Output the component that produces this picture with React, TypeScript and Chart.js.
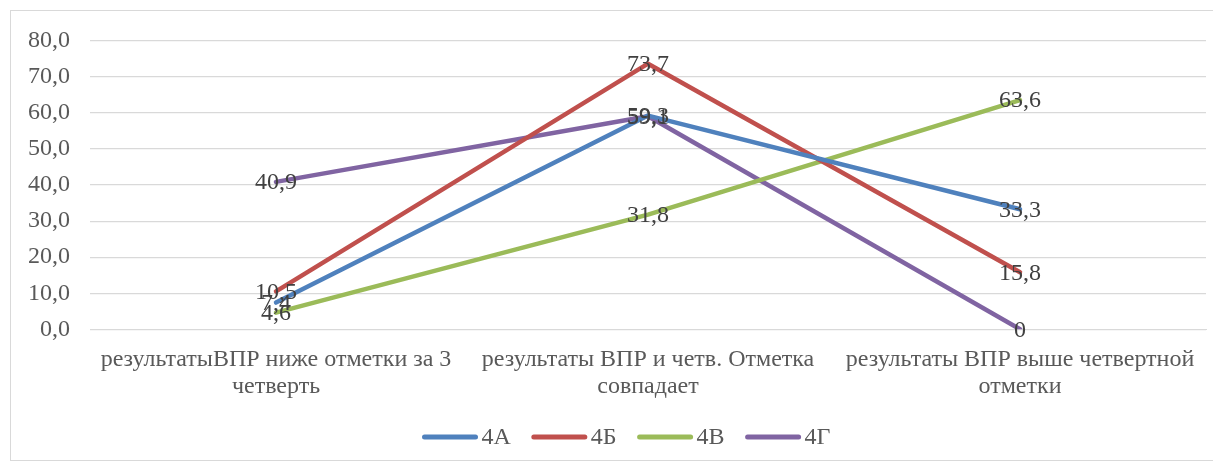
import React, { useEffect, useRef } from "react";
import { Chart, registerables } from "chart.js";

Chart.register(...registerables);

const categories: string[][] = [
  ["результатыВПР ниже отметки за 3", "четверть"],
  ["результаты ВПР и четв. Отметка", "совпадает"],
  ["результаты ВПР выше четвертной", "отметки"],
];

const seriesNames = ["4А", "4Б", "4В", "4Г"];
const values4A = [7.4, 59.3, 33.3];
const values4B = [10.5, 73.7, 15.8];
const values4V = [4.6, 31.8, 63.6];
const values4G = [40.9, 59.1, 0];
const colors = ["#4F81BD", "#C0504D", "#9BBB59", "#8064A2"];

const yTicks = [0, 10, 20, 30, 40, 50, 60, 70, 80];

const FONT = "'Liberation Serif', 'Times New Roman', serif";
const FS = 24;

const fmt = (v: number) => (v === 0 ? "0" : v.toFixed(1).replace(".", ","));

const labelPlugin = {
  id: "pointLabels",
  afterDatasetsDraw(chart: any) {
    const ctx = chart.ctx;
    ctx.save();
    ctx.font = `${FS}px ${FONT}`;
    ctx.fillStyle = "#404040";
    ctx.textAlign = "center";
    ctx.textBaseline = "middle";
    chart.data.datasets.forEach((ds: any, i: number) => {
      const meta = chart.getDatasetMeta(i);
      meta.data.forEach((pt: any, j: number) => {
        ctx.fillText(fmt(ds.data[j]), pt.x, pt.y + 1);
      });
    });
    ctx.restore();
  },
};

const legendPlugin = {
  id: "customLegend",
  afterDraw(chart: any) {
    const ctx = chart.ctx;
    ctx.save();
    ctx.font = `${FS}px ${FONT}`;
    const lineW = 55;
    const gap = 4;
    const after = 21;
    const items = chart.data.datasets.map((ds: any) => ({
      text: ds.label,
      color: ds.borderColor,
      w: ctx.measureText(ds.label).width,
    }));
    const total =
      items.reduce((s: number, it: any) => s + lineW + gap + it.w + after, 0) - after;
    let x = chart.width / 2 + 14 - total / 2;
    const y = chart.height - 23;
    items.forEach((it: any) => {
      ctx.strokeStyle = it.color;
      ctx.lineWidth = 5;
      ctx.lineCap = "round";
      ctx.beginPath();
      ctx.moveTo(x + 2, y);
      ctx.lineTo(x + lineW - 2, y);
      ctx.stroke();
      ctx.fillStyle = "#595959";
      ctx.textAlign = "left";
      ctx.textBaseline = "middle";
      ctx.fillText(it.text, x + lineW + gap, y + 1);
      x += lineW + gap + it.w + after;
    });
    ctx.restore();
  },
};

export default function App() {
  const ref = useRef<HTMLCanvasElement>(null);
  useEffect(() => {
    if (!ref.current) return;
    const all = [values4A, values4B, values4V, values4G];
    const chart = new Chart(ref.current, {
      type: "line",
      data: {
        labels: categories,
        datasets: all.map((d, i) => ({
          label: seriesNames[i],
          data: d,
          borderColor: colors[i],
          backgroundColor: colors[i],
          borderWidth: 4.5,
          pointRadius: 0,
          tension: 0,
          borderCapStyle: "round" as const,
          borderJoinStyle: "round" as const,
        })),
      },
      options: {
        animation: false,
        responsive: false,
        layout: { padding: { top: 30, right: 8, left: 16, bottom: 51 } },
        plugins: {
          tooltip: { enabled: false },
          legend: { display: false },
        },
        scales: {
          x: {
            offset: true,
            grid: { display: false },
            border: { display: true, color: "#d9d9d9" },
            ticks: {
              font: { family: FONT, size: FS, lineHeight: 1.12 },
              color: "#595959",
              maxRotation: 0,
              autoSkip: false,
              padding: 9,
            },
          },
          y: {
            min: 0,
            max: 80,
            afterBuildTicks: (axis: any) => {
              axis.ticks = yTicks.map((v) => ({ value: v }));
            },
            afterFit: (axis: any) => {
              axis.width = 63;
              axis.paddingTop = 0;
              axis.paddingBottom = 0;
            },
            grid: { color: "#d9d9d9", drawTicks: false, lineWidth: 1.3 },
            border: { display: false },
            ticks: {
              font: { family: FONT, size: FS },
              color: "#595959",
              padding: 20,
              callback: (v: any) => Number(v).toFixed(1).replace(".", ","),
            },
          },
        },
      },
      plugins: [labelPlugin, legendPlugin],
    });
    return () => chart.destroy();
  }, []);
  return (
    <div
      style={{
        width: 1205,
        height: 451,
        margin: "2px 0 0 2px",
        border: "1px solid #d9d9d9",
        boxSizing: "border-box",
        background: "#fff",
      }}
    >
      <canvas ref={ref} width={1203} height={449} style={{ display: "block" }} />
    </div>
  );
}
